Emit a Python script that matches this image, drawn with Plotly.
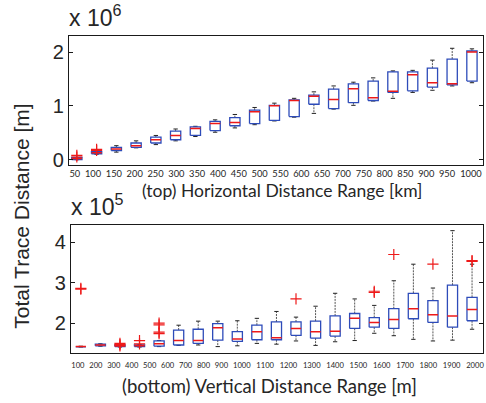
import numpy as np
import plotly.graph_objects as go

# ---------------- data (top: x10^6 m, bottom: x10^5 m) ----------------
top_labels = ["50", "100", "150", "200", "250", "300", "350", "400", "450", "500",
              "550", "600", "650", "700", "750", "800", "850", "900", "950", "1000"]
top_lower = [0.00, 0.10, 0.14, 0.22, 0.28, 0.35, 0.43, 0.51, 0.59, 0.65, 0.72,
             0.79, 0.86, 0.94, 1.01, 1.09, 1.14, 1.25, 1.29, 1.37, 1.43]
top_q1 = [0.00, 0.11, 0.17, 0.23, 0.31, 0.37, 0.45, 0.54, 0.63, 0.67, 0.73,
          0.80, 1.03, 0.95, 1.06, 1.10, 1.25, 1.28, 1.35, 1.39, 1.46]
top_med = [0.02, 0.13, 0.20, 0.26, 0.37, 0.45, 0.58, 0.67, 0.69, 0.89, 1.00,
           1.10, 1.18, 1.12, 1.32, 1.15, 1.27, 1.58, 1.43, 1.41, 2.00]
top_q3 = [0.04, 0.15, 0.23, 0.31, 0.42, 0.53, 0.61, 0.71, 0.78, 0.92, 1.01,
          1.11, 1.20, 1.31, 1.41, 1.46, 1.63, 1.63, 1.70, 1.87, 2.02]
top_upper = [0.04, 0.16, 0.26, 0.35, 0.45, 0.57, 0.62, 0.74, 0.84, 0.97, 1.05,
             1.14, 1.26, 1.37, 1.44, 1.52, 1.65, 1.66, 1.85, 2.07, 2.06]
top_outliers = [[0.05, 0.08], [0.17, 0.19]] + [[] for _ in range(19)]

bot_labels = ["100", "200", "300", "400", "500", "600", "700", "800", "900", "1000",
              "1100", "1200", "1300", "1400", "1500", "1600", "1700", "1800", "1900", "2000"]
bot_lower = [1.41, 1.43, 1.41, 1.41, 1.42, 1.45, 1.46, 1.42, 1.44, 1.50, 1.48,
             1.56, 1.45, 1.54, 1.57, 1.75, 1.69, 1.60, 1.56, 1.58, 1.85]
bot_q1 = [1.415, 1.44, 1.42, 1.42, 1.43, 1.46, 1.50, 1.58, 1.55, 1.59, 1.59,
          1.70, 1.63, 1.68, 1.87, 1.90, 1.87, 2.11, 2.02, 1.90, 2.06]
bot_med = [1.42, 1.46, 1.44, 1.44, 1.49, 1.57, 1.57, 1.89, 1.61, 1.79, 1.64,
           1.87, 1.79, 1.80, 2.12, 2.02, 2.09, 2.36, 2.21, 2.18, 2.34]
bot_q3 = [1.425, 1.48, 1.46, 1.46, 1.56, 1.83, 1.85, 1.99, 1.79, 1.95, 2.03,
          2.03, 2.05, 2.18, 2.24, 2.14, 2.36, 2.74, 2.56, 2.94, 2.64]
bot_upper = [1.43, 1.49, 1.47, 1.47, 1.57, 1.95, 2.05, 2.05, 2.06, 2.12, 2.29,
             2.15, 2.42, 2.74, 2.60, 2.44, 3.05, 3.46, 2.87, 4.29, 3.46]
bot_outliers = [[2.84, 2.86], [], [1.44, 1.47, 1.50], [1.49, 1.57],
                [1.74, 1.78, 1.96, 2.00], [], [], [], [], [], [], [2.60], [], [], [],
                [2.76, 2.79], [3.70], [], [3.46], [], [3.53, 3.55]]

BLUE = "rgb(45,75,185)"
RED = "rgb(238,25,25)"
TXT = "#262626"

fig = go.Figure()


def add_boxes(lower, q1, med, q3, upper, outl, xa, ya):
    n = len(med)
    pos = np.arange(1, n + 1)
    hw, cw = 0.26, 0.11
    wx, wy, cx, cy, bx, by, mx, my, ox, oy = ([] for _ in range(10))
    for i in range(n):
        p = pos[i]
        wx += [p, p, None, p, p, None]
        wy += [q3[i], upper[i], None, q1[i], lower[i], None]
        cx += [p - cw, p + cw, None, p - cw, p + cw, None]
        cy += [upper[i], upper[i], None, lower[i], lower[i], None]
        bx += [p - hw, p + hw, p + hw, p - hw, p - hw, None]
        by += [q1[i], q1[i], q3[i], q3[i], q1[i], None]
        mx += [p - hw, p + hw, None]
        my += [med[i], med[i], None]
        for v in outl[i]:
            ox.append(p)
            oy.append(v)
    common = dict(xaxis=xa, yaxis=ya, showlegend=False, hoverinfo="skip")
    fig.add_trace(go.Scatter(x=wx, y=wy, mode="lines",
                             line=dict(color="#555", width=1, dash="2px,1px"), **common))
    fig.add_trace(go.Scatter(x=cx, y=cy, mode="lines",
                             line=dict(color="#222", width=1), **common))
    fig.add_trace(go.Scatter(x=bx, y=by, mode="lines",
                             line=dict(color=BLUE, width=1.3), **common))
    fig.add_trace(go.Scatter(x=mx, y=my, mode="lines",
                             line=dict(color=RED, width=1.5), **common))
    fig.add_trace(go.Scatter(x=ox, y=oy, mode="markers",
                             marker=dict(symbol="cross-thin", size=8,
                                         line=dict(color=RED, width=1.2)), **common))


add_boxes(top_lower, top_q1, top_med, top_q3, top_upper, top_outliers, "x", "y")
add_boxes(bot_lower, bot_q1, bot_med, bot_q3, bot_upper, bot_outliers, "x2", "y2")

# tick label positions (labels written as one spaced string in the original)
top_tv = [0.90] + list(np.linspace(1.82, 19.74, 18)) + [20.95]
bot_tv = list(np.linspace(0.85, 8.19, 9)) + list(np.linspace(9.23, 21.15, 11))

H = 403.0
def ydom(top_px, bot_px):
    return [(H - bot_px) / H, (H - top_px) / H]

axis_common = dict(showline=True, linecolor="#1a1a1a", linewidth=1.2, mirror=True,
                   showgrid=False, zeroline=False)

fig.update_layout(
    width=486, height=403, margin=dict(l=0, r=0, t=0, b=0),
    paper_bgcolor="white", plot_bgcolor="white",
    xaxis=dict(domain=[69 / 486, 484 / 486], range=[0.596, 21.56], anchor="y",
               tickmode="array", tickvals=top_tv, ticktext=top_labels, ticks="",
               tickfont=dict(family="Lato", size=9.3, color=TXT), tickangle=0, **axis_common),
    yaxis=dict(domain=ydom(37, 167), range=[-0.09, 2.29], anchor="x",
               tickmode="array", tickvals=[0, 1, 2], ticktext=["0", "1", "2"],
               ticks="inside", ticklen=4, tickcolor="#1a1a1a",
               tickfont=dict(family="Liberation Sans", size=20, color=TXT), **axis_common),
    xaxis2=dict(domain=[71 / 486, 484 / 486], range=[0.49, 21.56], anchor="y2",
                tickmode="array", tickvals=bot_tv, ticktext=bot_labels, ticks="",
                ticklabelstandoff=5,
                tickfont=dict(family="Lato", size=7.6, color=TXT), tickangle=0, **axis_common),
    yaxis2=dict(domain=ydom(228, 358), range=[1.27, 4.44], anchor="x2",
                tickmode="array", tickvals=[2, 3, 4], ticktext=["2", "3", "4"],
                ticks="inside", ticklen=4, tickcolor="#1a1a1a",
                tickfont=dict(family="Liberation Sans", size=20, color=TXT), **axis_common),
)
fig.update_yaxes(mirror="ticks")

ann = [
    dict(text="x 10<sup>6</sup>", x=67 / 486, y=(H - 34) / H, xanchor="left", yanchor="bottom",
         font=dict(family="Liberation Sans", size=23, color=TXT)),
    dict(text="x 10<sup>5</sup>", x=69 / 486, y=(H - 225) / H, xanchor="left", yanchor="bottom",
         font=dict(family="Liberation Sans", size=23, color=TXT)),
    dict(text="(top) Horizontal Distance Range [km]", x=283 / 486, y=(H - 193.5) / H,
         xanchor="center", yanchor="middle", font=dict(family="Lato", size=17.5, color=TXT)),
    dict(text="(bottom) Vertical Distance Range [m]", x=270 / 486, y=(H - 392) / H,
         xanchor="center", yanchor="middle", font=dict(family="Lato", size=18.5, color=TXT)),
    dict(text="Total Trace Distance [m]", x=22 / 486, y=(H - 219) / H, textangle=-90,
         xanchor="center", yanchor="middle", font=dict(family="Liberation Sans", size=21, color=TXT)),
]
for a in ann:
    a.update(xref="paper", yref="paper", showarrow=False)
fig.update_layout(annotations=ann)

fig.write_html("out.html")
